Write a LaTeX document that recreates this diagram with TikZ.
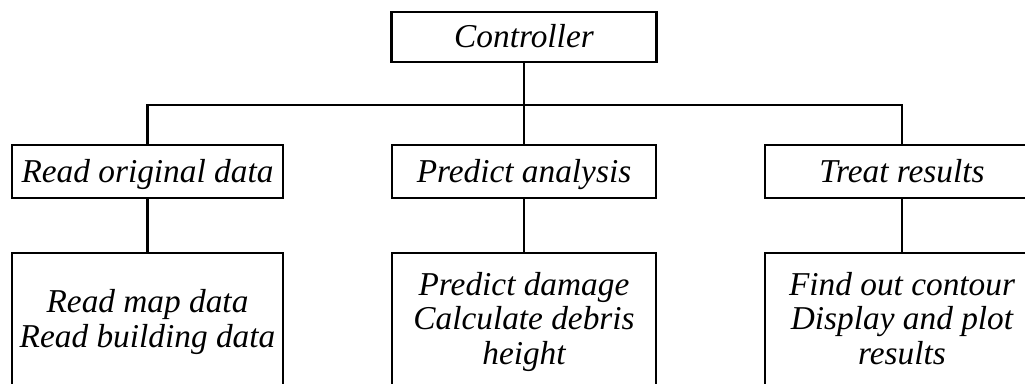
\documentclass[tikz,border=0pt]{standalone}
\usepackage{fontspec}
\setmainfont{Liberation Serif}
\newcommand\lstrut{\rule[-6pt]{0pt}{28pt}}
\newcommand\boxfont{\fontsize{25}{26}\selectfont\itshape\lineskiplimit=-100pt\relax}
\begin{document}
\begin{tikzpicture}[x=0.75pt,y=-0.75pt,
  box/.style={draw=black,line width=1.6pt,inner sep=0pt,align=center,
    font=\boxfont},
  link/.style={draw=black,line width=1.6pt}]
\useasboundingbox[fill=white] (0,0) rectangle (1025,383);
\clip (0,0) rectangle (1025,383);
\node[box,minimum width=198.75pt,minimum height=37.5pt] (ctrl) at (524,37) {\lstrut Controller};
\node[box,minimum width=203.25pt,minimum height=39.75pt] (a) at (147.5,171.5) {\lstrut Read original data};
\node[box,minimum width=198pt,minimum height=39.75pt] (b) at (524,171.5) {\lstrut Predict analysis};
\node[box,minimum width=205.5pt,minimum height=39.75pt] (c) at (902,171.5) {\lstrut Treat results};
\node[box,minimum width=203.25pt,minimum height=99pt] (a2) at (147.5,319) {\lstrut Read map data\\\lstrut Read building data};
\node[box,minimum width=198pt,minimum height=99pt] (b2) at (524,319) {\lstrut Predict damage\\\lstrut Calculate debris\\\lstrut height};
\node[box,minimum width=205.5pt,minimum height=99pt] (c2) at (902,319) {\lstrut Find out contour\\\lstrut Display and plot\\\lstrut results};
\coordinate (j) at (524,105);
\draw[link] (ctrl.south) -- (b.north);
\draw[link] (a.north) |- (j);
\draw[link] (c.north) |- (j);
\draw[link] (a.south) -- (a2.north);
\draw[link] (b.south) -- (b2.north);
\draw[link] (c.south) -- (c2.north);
\end{tikzpicture}
\end{document}
